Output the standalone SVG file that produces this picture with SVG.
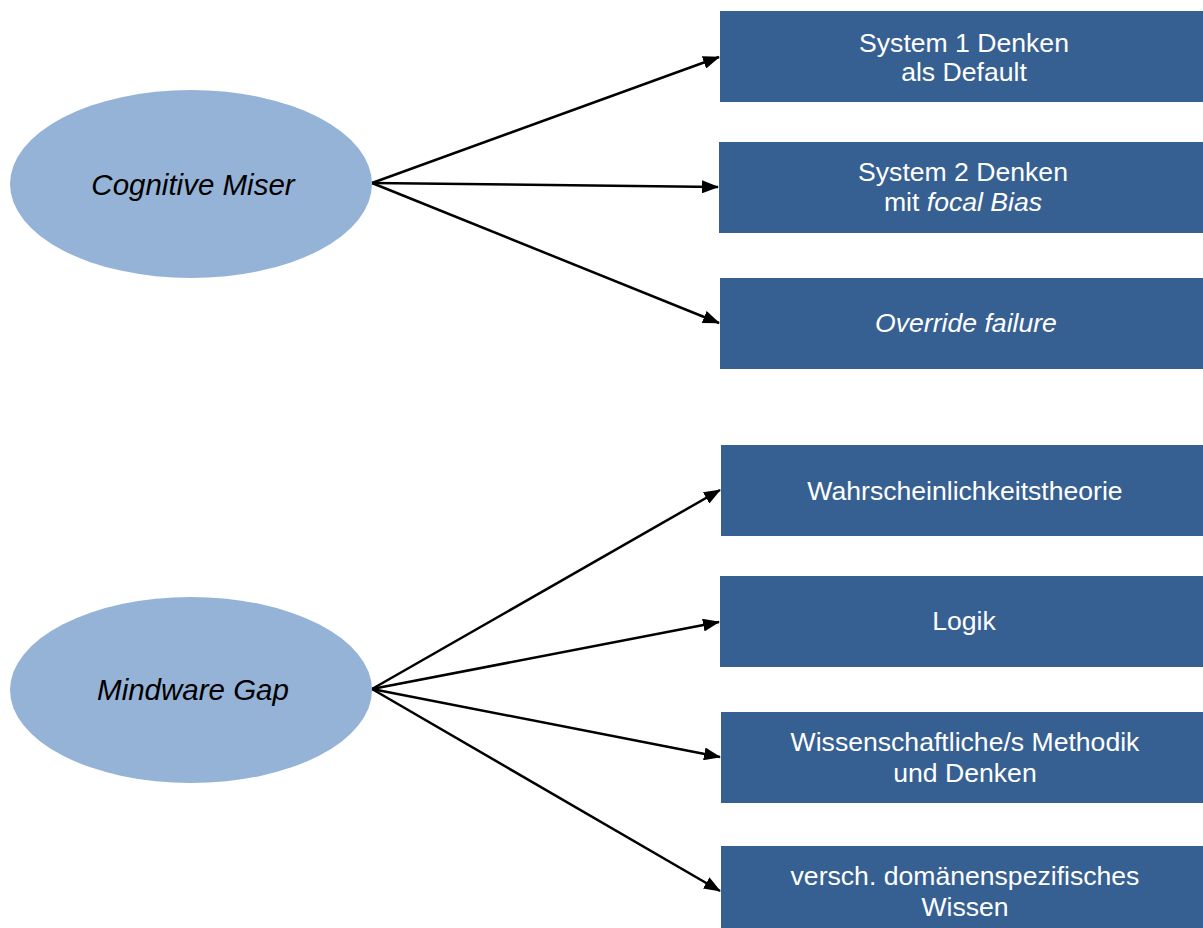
<svg xmlns="http://www.w3.org/2000/svg" width="1203" height="928" viewBox="0 0 1203 928">
<style>
.box{fill:#376092}
.ell{fill:#95B3D7}
.bt{font-family:"Liberation Sans",Arial,sans-serif;font-size:26.6px;fill:#ffffff;text-anchor:middle}
.et{font-family:"Liberation Sans",Arial,sans-serif;font-size:29.5px;font-style:italic;fill:#000000;text-anchor:middle}
.con{stroke:#000;stroke-width:2.5;fill:none;marker-end:url(#ah)}
</style>
<defs>
<marker id="ah" markerUnits="userSpaceOnUse" markerWidth="17" markerHeight="13" refX="16" refY="6.5" orient="auto">
<path d="M0,0 L17,6.5 L0,13 z" fill="#000"/>
</marker>
</defs>
<rect width="1203" height="928" fill="#fff"/>
<g id="connectors">
<line class="con" x1="372" y1="183" x2="719" y2="57"/>
<line class="con" x1="372" y1="183" x2="718" y2="187"/>
<line class="con" x1="372" y1="183" x2="719" y2="323"/>
<line class="con" x1="372" y1="689" x2="720" y2="490"/>
<line class="con" x1="372" y1="689" x2="719" y2="622"/>
<line class="con" x1="372" y1="689" x2="720" y2="757"/>
<line class="con" x1="372" y1="689" x2="720" y2="891"/>
</g>
<g id="cognitive-miser">
<ellipse class="ell" cx="191" cy="184" rx="181" ry="94"/>
<text class="et" x="193" y="195">Cognitive Miser</text>
</g>
<g id="mindware-gap">
<ellipse class="ell" cx="191" cy="690" rx="181" ry="93"/>
<text class="et" x="193" y="700">Mindware Gap</text>
</g>
<g id="system1">
<rect class="box" x="720" y="11" width="488" height="91"/>
<text class="bt" x="964" y="52">System 1 Denken</text>
<text class="bt" x="964" y="81">als Default</text>
</g>
<g id="system2">
<rect class="box" x="719" y="142" width="489" height="91"/>
<text class="bt" x="963" y="181">System 2 Denken</text>
<text class="bt" x="963" y="211">mit <tspan font-style="italic">focal Bias</tspan></text>
</g>
<g id="override">
<rect class="box" x="720" y="278" width="488" height="91"/>
<text class="bt" x="966" y="332" font-style="italic">Override failure</text>
</g>
<g id="wahrscheinlichkeit">
<rect class="box" x="721" y="445" width="487" height="91"/>
<text class="bt" x="965" y="500">Wahrscheinlichkeitstheorie</text>
</g>
<g id="logik">
<rect class="box" x="720" y="576" width="488" height="91"/>
<text class="bt" x="964" y="630">Logik</text>
</g>
<g id="methodik">
<rect class="box" x="721" y="712" width="487" height="91"/>
<text class="bt" x="965" y="751">Wissenschaftliche/s Methodik</text>
<text class="bt" x="965" y="782">und Denken</text>
</g>
<g id="wissen">
<rect class="box" x="721" y="846" width="487" height="85"/>
<text class="bt" x="965" y="885">versch. domänenspezifisches</text>
<text class="bt" x="965" y="916">Wissen</text>
</g>
</svg>
